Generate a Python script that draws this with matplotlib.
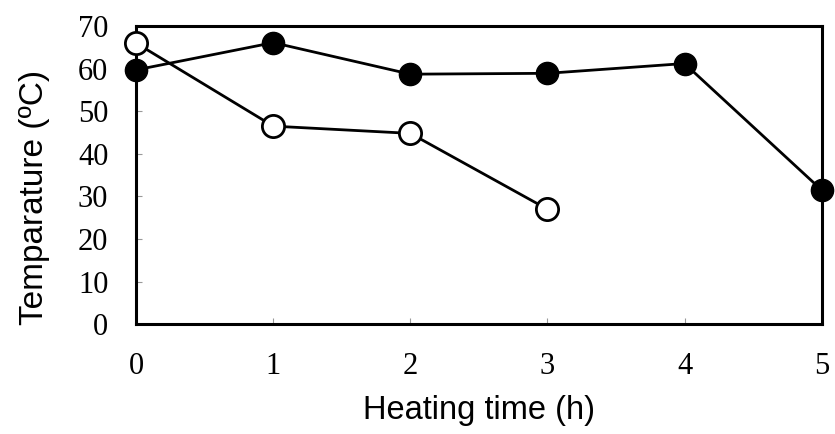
import matplotlib.pyplot as plt

hours_filled = [0, 1, 2, 3, 4, 5]
temp_filled = [59.7, 66.1, 58.7, 58.9, 61.2, 31.5]
hours_open = [0, 1, 2, 3]
temp_open = [66.0, 46.5, 44.8, 27.0]

fig = plt.figure(figsize=(8.35, 4.34), dpi=100)
ax = fig.add_axes([0.163, 0.253, 0.821, 0.687])

ax.plot(hours_filled, temp_filled, color="black", linewidth=2.0, marker="o",
        markersize=16, markerfacecolor="black", markeredgecolor="black",
        clip_on=False, zorder=3)
ax.plot(hours_open, temp_open, color="black", linewidth=2.0, marker="o",
        markersize=16, markerfacecolor="white", markeredgecolor="black",
        markeredgewidth=2, clip_on=False, zorder=4)

ax.set_xlim(0, 5)
ax.set_ylim(0, 70)
ax.set_xticks(range(0, 6))
ax.set_yticks(range(0, 71, 10))

for s in ax.spines.values():
    s.set_linewidth(2.2)

ax.tick_params(direction="in", length=4, width=0.8, color="#999999")
for lab in ax.get_xticklabels() + ax.get_yticklabels():
    lab.set_fontfamily("Liberation Serif")
    lab.set_fontsize(22)
ax.tick_params(axis="x", pad=20)
ax.tick_params(axis="y", pad=20)

ax.set_xlabel("Heating time (h)", fontfamily="Liberation Sans", fontsize=23.5, labelpad=10)
ax.set_ylabel("Temparature (ºC)", fontfamily="Liberation Sans", fontsize=24)
# the y label sits a bit below the axes centre in the original
ax.yaxis.set_label_coords(-0.125, 0.426)

fig.savefig("out.png", dpi=100)
